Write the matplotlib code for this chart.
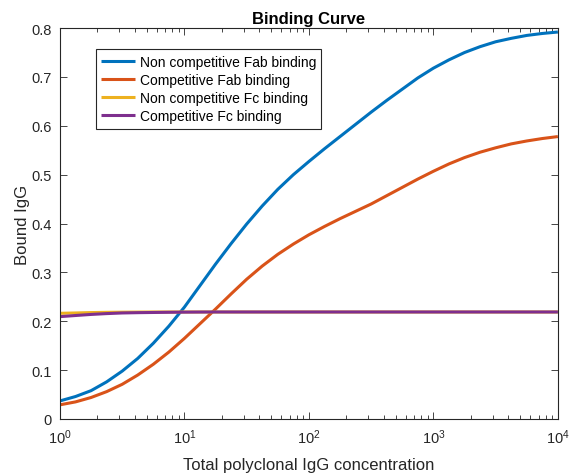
import numpy as np
import matplotlib.pyplot as plt

plt.rcParams['font.family'] = ['Liberation Sans', 'DejaVu Sans']
plt.rcParams['mathtext.fontset'] = 'custom'
plt.rcParams['mathtext.rm'] = 'Liberation Sans'
plt.rcParams['mathtext.it'] = 'Liberation Sans:italic'

# Polyclonal IgG concentration (log10 grid, 1/8 decade) and bound fractions
log_conc = [0, 0.125, 0.25, 0.375, 0.5, 0.625, 0.75, 0.875, 1.0, 1.125, 1.25,
            1.375, 1.5, 1.625, 1.75, 1.875, 2.0, 2.125, 2.25, 2.375, 2.5,
            2.625, 2.75, 2.875, 3.0, 3.125, 3.25, 3.375, 3.5, 3.625, 3.75,
            3.875, 4.0]
fab_noncomp = [0.037, 0.046, 0.058, 0.076, 0.098, 0.124, 0.155, 0.19, 0.229,
               0.273, 0.317, 0.359, 0.399, 0.436, 0.47, 0.50, 0.527, 0.553,
               0.578, 0.603, 0.628, 0.652, 0.675, 0.698, 0.718, 0.735, 0.75,
               0.762, 0.772, 0.779, 0.785, 0.789, 0.792]
fab_comp = [0.029, 0.035, 0.044, 0.056, 0.071, 0.090, 0.112, 0.137, 0.165,
            0.195, 0.225, 0.256, 0.286, 0.313, 0.337, 0.358, 0.377, 0.394,
            0.41, 0.425, 0.44, 0.457, 0.474, 0.491, 0.507, 0.522, 0.535,
            0.546, 0.555, 0.563, 0.569, 0.574, 0.578]
fc_noncomp = [0.2163, 0.217, 0.2178, 0.2183, 0.2186, 0.2188, 0.219, 0.219,
              0.219, 0.219, 0.219, 0.219, 0.219, 0.219, 0.219, 0.219, 0.219,
              0.219, 0.219, 0.219, 0.219, 0.219, 0.219, 0.219, 0.219, 0.219,
              0.219, 0.219, 0.219, 0.219, 0.219, 0.219, 0.219]
fc_comp = [0.2095, 0.2118, 0.214, 0.2157, 0.217, 0.2176, 0.218, 0.2184,
           0.2187, 0.2189, 0.219, 0.219, 0.219, 0.219, 0.219, 0.219, 0.219,
           0.219, 0.219, 0.219, 0.219, 0.219, 0.219, 0.219, 0.219, 0.219,
           0.219, 0.219, 0.219, 0.219, 0.219, 0.219, 0.219]

labels = ['Non competitive Fab binding', 'Competitive Fab binding',
          'Non competitive Fc binding', 'Competitive Fc binding']
colors = ['#0072BD', '#D95319', '#EDB120', '#7E2F8E']

conc = 10 ** np.array(log_conc)

fig = plt.figure(figsize=(5.71, 4.77), dpi=100)
ax = fig.add_axes([0.105, 0.1195, 0.872, 0.8195])

for y, lab, c in zip([fab_noncomp, fab_comp, fc_noncomp, fc_comp], labels, colors):
    ax.plot(conc, y, color=c, lw=2.2, label=lab, solid_capstyle='butt')

ax.set_xscale('log')
ax.set_xlim(1, 1e4)
ax.set_ylim(0, 0.8)
ax.set_yticks(np.arange(0, 0.81, 0.1))
ax.set_yticklabels(['0', '0.1', '0.2', '0.3', '0.4', '0.5', '0.6', '0.7', '0.8'])

ax.tick_params(which='both', direction='in', top=True, right=True,
               colors='#262626', labelsize=10.5)
ax.tick_params(axis='y', pad=6)
ax.tick_params(axis='x', pad=6)
ax.tick_params(which='major', length=5, width=0.6)
ax.tick_params(which='minor', length=3, width=0.6)
for s in ax.spines.values():
    s.set_color('#262626')
    s.set_linewidth(0.8)

ax.set_title('Binding Curve', fontsize=12, fontweight='bold', pad=4)
ax.set_xlabel('Total polyclonal IgG concentration', fontsize=12,
              color='#262626', labelpad=8)
ax.set_ylabel('Bound IgG', fontsize=12, color='#262626', labelpad=1)

leg = ax.legend(loc='upper left', bbox_to_anchor=(0.072, 0.946), fontsize=10,
                frameon=True, fancybox=False, edgecolor='#262626', framealpha=1,
                handlelength=2.4, handletextpad=0.35, borderpad=0.4,
                labelspacing=0.3, borderaxespad=0)
leg.get_frame().set_linewidth(0.8)

fig.savefig('out.png', dpi=100)
